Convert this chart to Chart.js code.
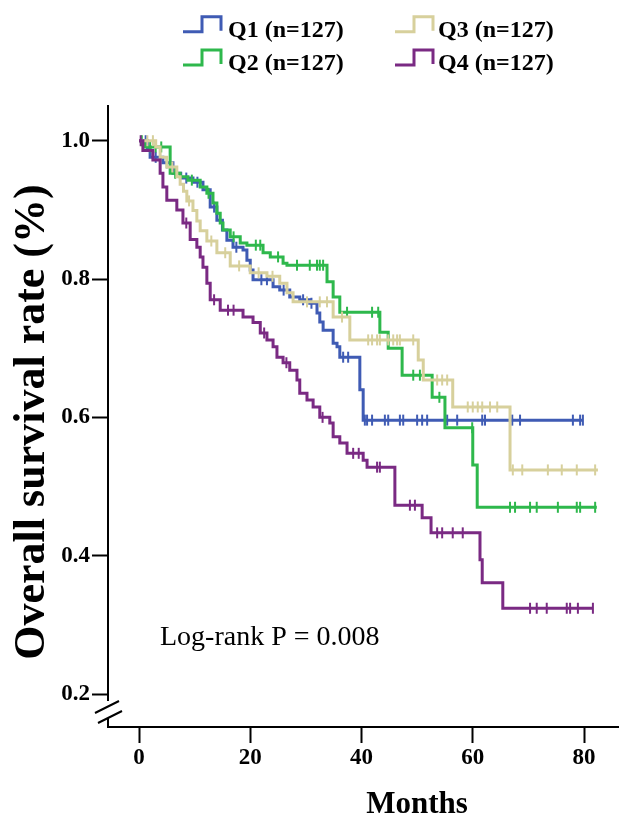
<!DOCTYPE html>
<html><head><meta charset="utf-8">
<script src="https://cdn.jsdelivr.net/npm/chart.js@4/dist/chart.umd.min.js"></script>
<style>html,body{margin:0;padding:0;background:#fff}#wrap{width:642px;height:817px;position:relative}</style>
</head><body><div id="wrap"><canvas id="c" width="642" height="817"></canvas></div>
<script>
// ---------------- data ----------------
const SERIES_LABELS = ['Q1 (n=127)', 'Q2 (n=127)', 'Q3 (n=127)', 'Q4 (n=127)'];
const X_TICKS = [0, 20, 40, 60, 80];
const Y_TICKS = [0.2, 0.4, 0.6, 0.8, 1.0];
const X_TITLE = 'Months';
const Y_TITLE = 'Overall survival rate (%)';
const NOTE = 'Log-rank P = 0.008';

const Q1_TIME = [0, 1.5, 2.0, 4.3, 6.1, 7.5, 9.7, 11.5, 12.8, 14.0, 15.0, 15.8, 16.9, 18.7, 19.4, 20.0, 20.5, 24.1, 25.3, 27.1, 28.9, 30.7, 32.0, 32.5, 33.1, 34.9, 35.6, 36.1, 39.7, 40.3, 79.8];
const Q1_SURV = [1.0, 0.990, 0.976, 0.968, 0.953, 0.946, 0.940, 0.929, 0.904, 0.885, 0.871, 0.856, 0.846, 0.842, 0.827, 0.813, 0.799, 0.789, 0.784, 0.774, 0.770, 0.765, 0.751, 0.738, 0.726, 0.707, 0.702, 0.687, 0.640, 0.596, 0.596];
const Q1_CENSOR = [1.2, 3.0, 5.0, 8.5, 10.5, 13.5, 17.5, 22.0, 23.0, 26.0, 29.5, 31.0, 36.7, 37.6, 40.6, 41.0, 41.9, 44.2, 44.8, 46.9, 47.5, 50.0, 50.9, 51.8, 55.4, 57.2, 61.7, 62.2, 67.1, 68.5, 78.0, 79.3, 79.8];

const Q2_TIME = [0, 1.0, 5.6, 7.4, 8.8, 11.0, 12.2, 13.3, 14.0, 14.6, 15.1, 16.4, 18.2, 19.4, 22.3, 23.6, 25.9, 26.6, 33.8, 34.9, 36.1, 43.3, 44.8, 47.3, 52.7, 55.0, 60.0, 60.8, 82.3];
const Q2_SURV = [1.0, 0.991, 0.953, 0.948, 0.943, 0.933, 0.924, 0.910, 0.895, 0.881, 0.871, 0.861, 0.852, 0.849, 0.838, 0.832, 0.823, 0.820, 0.796, 0.774, 0.752, 0.723, 0.700, 0.661, 0.629, 0.585, 0.531, 0.470, 0.470];
const Q2_CENSOR = [0.5, 2.0, 3.0, 4.0, 6.5, 9.5, 12.5, 17.0, 21.0, 21.8, 25.0, 28.4, 30.7, 32.0, 32.5, 33.1, 37.4, 41.9, 43.0, 49.3, 50.5, 54.0, 59.9, 66.7, 67.6, 70.3, 71.5, 75.3, 78.7, 79.3, 82.0];

const Q3_TIME = [0, 3.0, 3.8, 5.0, 6.8, 7.4, 8.0, 8.6, 9.7, 10.4, 11.0, 12.2, 14.0, 16.4, 20.0, 23.0, 25.3, 26.6, 27.7, 34.9, 37.9, 50.2, 51.1, 56.4, 66.7, 82.5];
const Q3_SURV = [1.0, 0.991, 0.976, 0.962, 0.948, 0.937, 0.927, 0.913, 0.899, 0.884, 0.870, 0.855, 0.838, 0.819, 0.809, 0.804, 0.794, 0.780, 0.767, 0.745, 0.712, 0.683, 0.654, 0.615, 0.524, 0.524];
const Q3_CENSOR = [1.5, 2.5, 6.0, 9.0, 13.0, 15.5, 18.0, 21.5, 24.0, 30.2, 32.5, 33.8, 36.5, 41.2, 41.9, 42.8, 43.3, 44.8, 45.7, 46.4, 46.9, 49.3, 53.6, 54.5, 55.4, 59.1, 60.0, 60.9, 61.7, 63.1, 64.4, 67.2, 68.9, 73.5, 76.0, 78.7, 82.0];

const Q4_TIME = [0, 0.7, 2.5, 3.8, 4.3, 5.0, 6.8, 7.9, 9.2, 10.4, 11.0, 11.5, 12.2, 12.8, 14.6, 18.7, 20.5, 21.8, 23.0, 24.1, 24.8, 25.9, 27.1, 28.4, 28.9, 30.2, 31.3, 32.5, 34.3, 34.9, 36.1, 37.4, 40.3, 41.0, 46.0, 50.9, 52.5, 61.3, 61.7, 65.4, 81.6];
const Q4_SURV = [1.0, 0.986, 0.972, 0.953, 0.933, 0.914, 0.900, 0.881, 0.857, 0.846, 0.832, 0.817, 0.794, 0.770, 0.755, 0.745, 0.737, 0.722, 0.712, 0.702, 0.687, 0.679, 0.668, 0.654, 0.635, 0.625, 0.615, 0.600, 0.592, 0.572, 0.563, 0.548, 0.538, 0.528, 0.473, 0.455, 0.433, 0.394, 0.361, 0.324, 0.324];
const Q4_CENSOR = [0.3, 8.5, 13.5, 16.0, 17.0, 22.5, 26.5, 33.0, 38.5, 39.5, 42.8, 43.3, 48.7, 49.6, 53.6, 54.5, 56.4, 58.2, 70.3, 71.5, 73.3, 76.9, 77.5, 78.9, 81.6];

const SERIES_TIME = [Q1_TIME, Q2_TIME, Q3_TIME, Q4_TIME];
const SERIES_SURV = [Q1_SURV, Q2_SURV, Q3_SURV, Q4_SURV];
const SERIES_CENSOR = [Q1_CENSOR, Q2_CENSOR, Q3_CENSOR, Q4_CENSOR];

// ---------------- style ----------------
const COLORS = ['#3f5bb4', '#2eb84c', '#d7d09c', '#7a2a83'];
const SERIF = '"Liberation Serif", "Times New Roman", serif';
const X_MIN = -5.573, X_MAX = 86.11;
const Y_MIN = 0.1523, Y_MAX = 1.0502;

function stepAt(ts, ss, t) {
  let v = ss[0];
  for (let i = 0; i < ts.length; i++) { if (ts[i] <= t) v = ss[i]; }
  return v;
}

const datasets = [];
for (let i = 0; i < 4; i++) {
  datasets.push({
    type: 'line',
    label: SERIES_LABELS[i],
    data: SERIES_TIME[i].map((t, k) => ({ x: t, y: SERIES_SURV[i][k] })),
    stepped: true,
    borderColor: COLORS[i],
    borderWidth: 3,
    pointRadius: 0,
    fill: false,
    order: 10 - i
  });
  datasets.push({
    type: 'scatter',
    label: SERIES_LABELS[i] + ' censored',
    data: SERIES_CENSOR[i].map(t => ({ x: t, y: stepAt(SERIES_TIME[i], SERIES_SURV[i], t) })),
    showLine: false,
    pointStyle: 'line',
    rotation: 90,
    pointRadius: 5.5,
    pointBorderWidth: 2,
    borderColor: COLORS[i],
    backgroundColor: COLORS[i],
    order: 10 - i
  });
}

const decor = {
  id: 'decor',
  afterDraw(chart) {
    const ctx = chart.ctx;
    ctx.save();
    // axis break
    ctx.fillStyle = '#fff';
    ctx.fillRect(104, 701, 9, 17);
    ctx.strokeStyle = '#000';
    ctx.lineWidth = 2;
    ctx.beginPath();
    ctx.moveTo(95, 713); ctx.lineTo(119, 701);
    ctx.moveTo(98, 723); ctx.lineTo(122, 711);
    ctx.stroke();
    // axis titles
    ctx.fillStyle = '#000';
    ctx.font = 'bold 31px ' + SERIF;
    ctx.textAlign = 'center';
    ctx.textBaseline = 'alphabetic';
    ctx.fillText(X_TITLE, 417, 813);
    ctx.save();
    ctx.translate(44, 422);
    ctx.rotate(-Math.PI / 2);
    ctx.font = 'bold 44px ' + SERIF;
    ctx.fillText(Y_TITLE, 0, 0);
    ctx.restore();
    // note
    ctx.font = '28px ' + SERIF;
    ctx.textAlign = 'left';
    ctx.fillText(NOTE, 160, 645);
    // legend
    const iconX = [183, 395], textX = [228, 438];
    ctx.font = 'bold 24px ' + SERIF;
    for (let i = 0; i < 4; i++) {
      const col = Math.floor(i / 2), row = i % 2;
      const base = 36.7 + 33.3 * row;
      const x0 = iconX[col];
      ctx.strokeStyle = COLORS[i];
      ctx.lineWidth = 3;
      ctx.beginPath();
      ctx.moveTo(x0, base - 5);
      ctx.lineTo(x0 + 19, base - 5);
      ctx.lineTo(x0 + 19, base - 20);
      ctx.lineTo(x0 + 38, base - 20);
      ctx.lineTo(x0 + 38, base - 6);
      ctx.stroke();
      ctx.fillStyle = '#000';
      ctx.fillText(SERIES_LABELS[i], textX[col], base);
    }
    ctx.restore();
  }
};

new Chart(document.getElementById('c'), {
  data: { datasets },
  options: {
    responsive: false,
    devicePixelRatio: 1,
    animation: false,
    layout: { padding: { left: 0, right: 24, top: 106, bottom: 0 } },
    plugins: { legend: { display: false }, tooltip: { enabled: false } },
    scales: {
      x: {
        type: 'linear', min: X_MIN, max: X_MAX,
        afterBuildTicks: s => { s.ticks = X_TICKS.map(v => ({ value: v })); },
        afterFit: s => { s.height = 90; },
        grid: { display: true, drawOnChartArea: false, drawTicks: true, tickLength: 16, tickWidth: 2, tickColor: '#000' },
        border: { display: true, color: '#000', width: 2 },
        ticks: { color: '#000', font: { family: SERIF, size: 23, weight: 'bold' }, padding: 1, maxRotation: 0, autoSkip: false, callback: v => String(v) }
      },
      y: {
        type: 'linear', min: Y_MIN, max: Y_MAX,
        afterBuildTicks: s => { s.ticks = Y_TICKS.map(v => ({ value: v })); },
        afterFit: s => { s.width = 108; },
        grid: { display: true, drawOnChartArea: false, drawTicks: true, tickLength: 16, tickWidth: 2, tickColor: '#000' },
        border: { display: true, color: '#000', width: 2 },
        ticks: { color: '#000', font: { family: SERIF, size: 23, weight: 'bold' }, padding: 2, autoSkip: false, callback: v => Number(v).toFixed(1) }
      }
    }
  },
  plugins: [decor]
});
</script></body></html>
